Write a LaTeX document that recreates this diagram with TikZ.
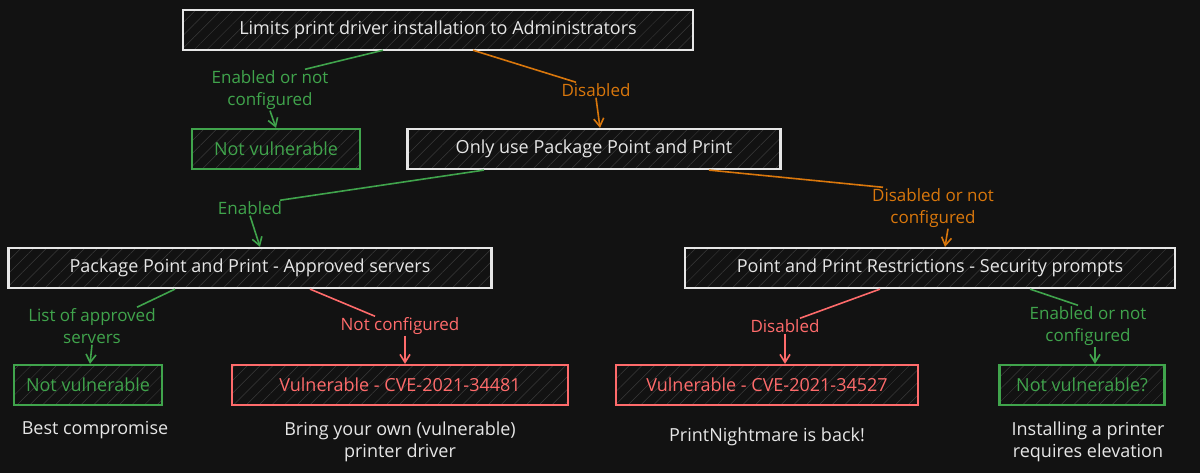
\documentclass[tikz,border=0pt]{standalone}
\usepackage{fontspec}
\setmainfont{Open Sans}
\usetikzlibrary{patterns.meta,arrows.meta}
\definecolor{bg}{HTML}{121212}
\definecolor{wh}{HTML}{E6E6E6}
\definecolor{gr}{HTML}{40A44C}
\definecolor{og}{HTML}{D9770C}
\definecolor{rd}{HTML}{FF6B6B}
\definecolor{ht}{HTML}{3A3A3A}
\begin{document}
\begin{tikzpicture}[x=1pt,y=-1pt,
  box/.style={draw=#1,line width=2.2pt,text=#1,minimum height=40pt,inner xsep=0pt,
    font=\fontsize{18}{21}\selectfont,
    preaction={fill=bg},pattern={Lines[angle=45,distance=9pt,line width=0.5pt]},pattern color=ht},
  lab/.style={text=#1,font=\fontsize{17}{22}\selectfont,align=center,inner sep=1pt},
  captxt/.style={text=wh,font=\fontsize{18}{22}\selectfont,align=center},
  ln/.style={draw=#1,line width=1.6pt},
  ar/.style={ln=#1,-{Straight Barb[length=8pt,width=10pt]}}]
\fill[bg] (0,0) rectangle (1200,473);
\useasboundingbox (0,0) rectangle (1200,473);
\node[box=wh,minimum width=510pt] (t) at (438,30) {Limits print driver installation to Administrators};
\node[box=gr,minimum width=168pt] (nv1) at (276,149) {Not vulnerable};
\node[box=wh,minimum width=373pt] (b2) at (594,149) {Only use Package Point and Print};
\node[box=wh,minimum width=483pt] (b3) at (250,268) {Package Point and Print - Approved servers};
\node[box=wh,minimum width=490pt] (b4) at (930,268) {Point and Print Restrictions - Security prompts};
\node[box=gr,minimum width=148pt] (nv2) at (88,385) {Not vulnerable};
\node[box=rd,minimum width=336pt] (v1) at (400,385) {Vulnerable - CVE-2021-34481};
\node[box=rd,minimum width=302pt] (v2) at (767,385) {Vulnerable - CVE-2021-34527};
\node[box=gr,minimum width=165pt] (nv3) at (1082,385) {Not vulnerable?};

\node[lab=gr] (l1) at (270,90) {Enabled or not\\configured};
\node[lab=og] (l2) at (596,90) {Disabled};
\node[lab=gr] (l3) at (250,208) {Enabled};
\node[lab=og] (l4) at (933,208) {Disabled or not\\configured};
\node[lab=gr] (l5) at (92,326) {List of approved\\servers};
\node[lab=rd] (l6) at (400,326) {Not configured};
\node[lab=rd] (l7) at (785,326) {Disabled};
\node[lab=gr] (l8) at (1088,326) {Enabled or not\\configured};

\node[captxt] (c1) at (95,430) {Best compromise};
\node[captxt] (c2) at (400,442) {Bring your own (vulnerable)\\printer driver};
\node[captxt] (c3) at (767,437) {PrintNightmare is back!};
\node[captxt] (c4) at (1088,442) {Installing a printer\\requires elevation};

\draw[ln=gr] ([xshift=-55pt]t.south) -- ([xshift=35pt]l1.north);
\draw[ar=gr] (l1.south) -- (nv1.north);
\draw[ln=og] ([xshift=35pt]t.south) -- ([xshift=-20pt]l2.north);
\draw[ar=og] (l2.south) -- ([xshift=6pt]b2.north);
\draw[ln=gr] ([xshift=-110pt]b2.south) -- ([xshift=30pt]l3.north);
\draw[ar=gr] (l3.south) -- ([xshift=10pt]b3.north);
\draw[ln=og] ([xshift=115pt]b2.south) -- ([xshift=-50pt]l4.north);
\draw[ar=og] ([xshift=15pt]l4.south) -- ([xshift=15pt]b4.north);
\draw[ln=gr] ([xshift=-75pt]b3.south) -- ([xshift=45pt]l5.north);
\draw[ar=gr] (l5.south) -- ([xshift=2pt]nv2.north);
\draw[ln=rd] ([xshift=60pt]b3.south) -- ([xshift=-25pt]l6.north);
\draw[ar=rd] ([xshift=5pt]l6.south) -- ([xshift=5pt]v1.north);
\draw[ln=rd] ([xshift=-50pt]b4.south) -- ([xshift=15pt]l7.north);
\draw[ar=rd] (l7.south) -- ([xshift=18pt]v2.north);
\draw[ln=gr] ([xshift=100pt]b4.south) -- ([xshift=-10pt]l8.north);
\draw[ar=gr] ([xshift=7pt]l8.south) -- ([xshift=13pt]nv3.north);
\end{tikzpicture}
\end{document}
